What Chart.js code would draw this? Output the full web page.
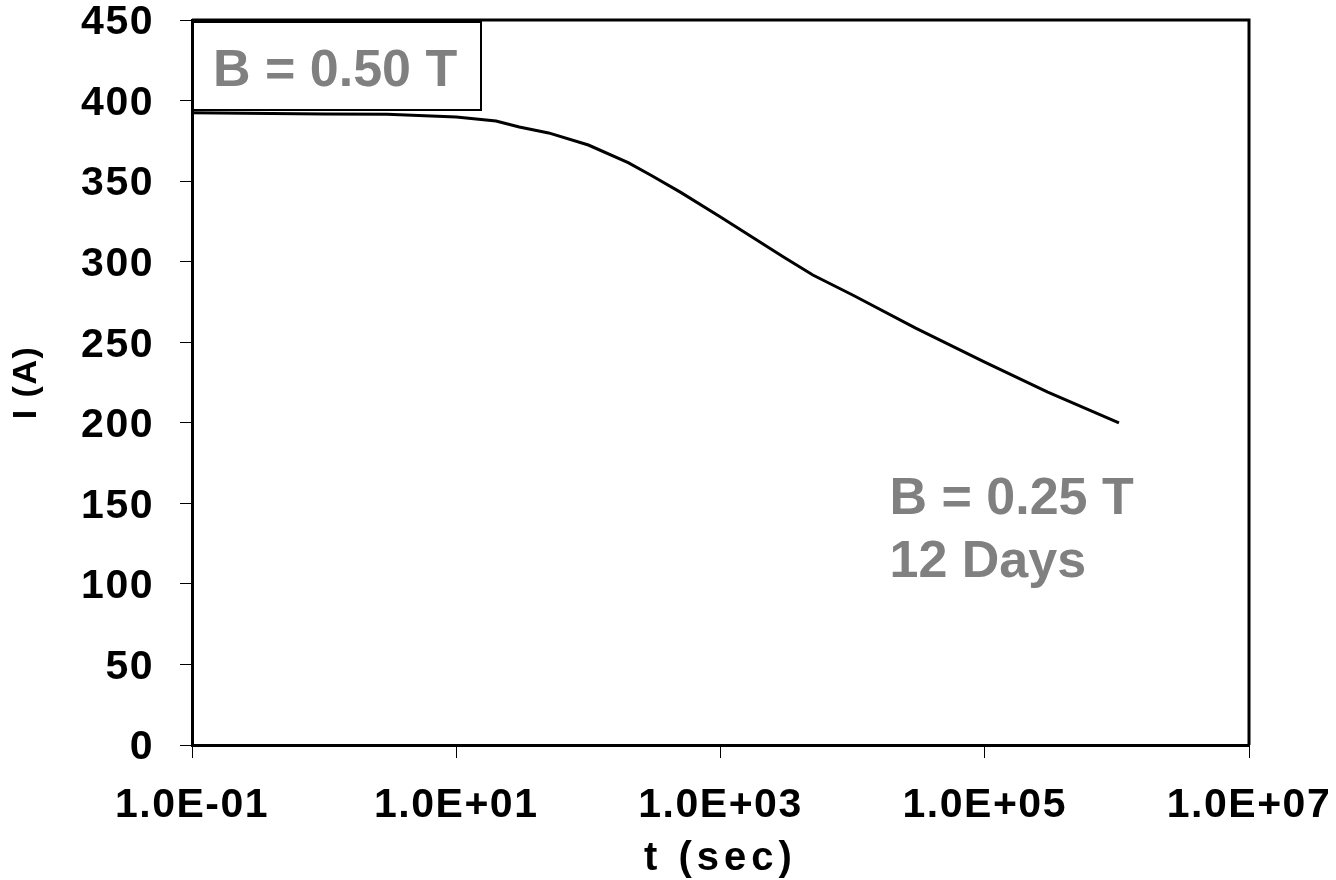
<!DOCTYPE html>
<html><head><meta charset="utf-8">
<script src="https://cdn.jsdelivr.net/npm/chart.js@4/dist/chart.umd.min.js"></script>
<style>html,body{margin:0;padding:0;background:#fff;overflow:hidden}</style>
</head><body>
<canvas id="c" width="1336" height="880"></canvas>
<script>
// ---- data ----
const timeSec  = [0.1, 1, 3, 10, 20, 30, 50, 100, 200, 300, 500, 1000, 3000, 5000, 10000, 30000, 100000, 300000, 1036800];
const currentA = [392.5, 391.7, 391.5, 389.8, 387.3, 383.6, 379.9, 372.4, 361.5, 353.5, 343.0, 327.7, 302.9, 291.7, 279.3, 258.8, 237.7, 219.0, 200.0];
const xTickValues = [0.1, 10, 1000, 100000, 10000000];
const xTickLabels = ['1.0E-01', '1.0E+01', '1.0E+03', '1.0E+05', '1.0E+07'];
const yTickValues = [0, 50, 100, 150, 200, 250, 300, 350, 400, 450];
const xTitle = 't (sec)';
const yTitle = 'I (A)';
const boxLabel = 'B = 0.50 T';
const noteLines = ['B = 0.25 T', '12 Days'];

const FONT = '"Liberation Sans", Arial, Helvetica, sans-serif';
const GREY = '#808080';

// per-axis letter spacing for axis titles
const origDrawTitle = Chart.Scale.prototype.drawTitle;
Chart.Scale.prototype.drawTitle = function () {
  const ctx = this.ctx;
  const prev = ctx.letterSpacing;
  ctx.letterSpacing = this.axis === 'x' ? '5px' : '1.5px';
  origDrawTitle.call(this);
  ctx.letterSpacing = prev;
};

const decor = {
  id: 'decor',
  beforeDraw(chart) {
    const ctx = chart.ctx;
    ctx.save();
    ctx.fillStyle = '#fff';
    ctx.fillRect(0, 0, chart.width, chart.height);
    ctx.restore();
    ctx.letterSpacing = '1.5px';
  },
  afterDraw(chart) {
    const {ctx, chartArea: a, scales} = chart;
    ctx.save();
    ctx.letterSpacing = '0px';
    // top and right frame
    ctx.strokeStyle = '#000';
    ctx.lineWidth = 3;
    ctx.beginPath();
    ctx.moveTo(a.left, a.top);
    ctx.lineTo(a.right, a.top);
    ctx.lineTo(a.right, a.bottom);
    ctx.stroke();
    // label box top-left
    ctx.font = 'bold 52px ' + FONT;
    const bw = 288, bh = 88;
    ctx.fillStyle = '#fff';
    ctx.fillRect(a.left + 1, a.top + 2, bw, bh);
    ctx.lineWidth = 2;
    ctx.strokeRect(a.left + 1, a.top + 2, bw, bh);
    ctx.fillStyle = GREY;
    ctx.textBaseline = 'alphabetic';
    ctx.textAlign = 'left';
    ctx.fillText(boxLabel, a.left + 21, a.top + 66);
    // note text
    const nx = scales.x.getPixelForValue(19000);
    ctx.fillText(noteLines[0], nx, scales.y.getPixelForValue(143.5));
    ctx.fillText(noteLines[1], nx, scales.y.getPixelForValue(104.5));
    ctx.restore();
  }
};

new Chart(document.getElementById('c'), {
  type: 'line',
  data: {
    datasets: [{
      data: timeSec.map((t, i) => ({x: t, y: currentA[i]})),
      borderColor: '#000',
      borderWidth: 3,
      pointRadius: 0,
      tension: 0,
      fill: false
    }]
  },
  options: {
    responsive: false,
    animation: false,
    devicePixelRatio: 1,
    layout: {padding: {top: 20, right: 87, left: 0, bottom: 0}},
    plugins: {legend: {display: false}, tooltip: {enabled: false}},
    scales: {
      x: {
        type: 'logarithmic',
        min: 0.1, max: 10000000,
        afterBuildTicks(s) { s.ticks = xTickValues.map(v => ({value: v})); },
        afterFit(s) { s.height = 135; s.paddingLeft = 0; s.paddingRight = 0; },
        ticks: {
          autoSkip: false, maxRotation: 0, minRotation: 0,
          color: '#000', padding: 27,
          font: {family: FONT, size: 41, weight: 'bold', lineHeight: 1},
          callback: (v, i) => xTickLabels[i]
        },
        grid: {display: true, drawOnChartArea: false, drawTicks: true, tickLength: 13, color: '#000', lineWidth: 1},
        border: {display: true, color: '#000', width: 3},
        title: {display: true, text: xTitle, color: '#000', padding: {top: 0, bottom: 1},
          font: {family: FONT, size: 40, weight: 'bold', lineHeight: 1}}
      },
      y: {
        type: 'linear',
        min: 0, max: 450,
        afterBuildTicks(s) { s.ticks = yTickValues.map(v => ({value: v})); },
        afterFit(s) { s.width = 192; s.paddingTop = 0; s.paddingBottom = 0; },
        ticks: {
          color: '#000', padding: 26, labelOffset: 3,
          font: {family: FONT, size: 41, weight: 'bold', lineHeight: 1}
        },
        grid: {display: true, drawOnChartArea: false, drawTicks: true, tickLength: 12, color: '#000', lineWidth: 1},
        border: {display: true, color: '#000', width: 3},
        title: {display: true, text: yTitle, color: '#000', padding: {top: 10, bottom: 0},
          font: {family: FONT, size: 34, weight: 'bold', lineHeight: 1}}
      }
    }
  },
  plugins: [decor]
});
</script>
</body></html>
